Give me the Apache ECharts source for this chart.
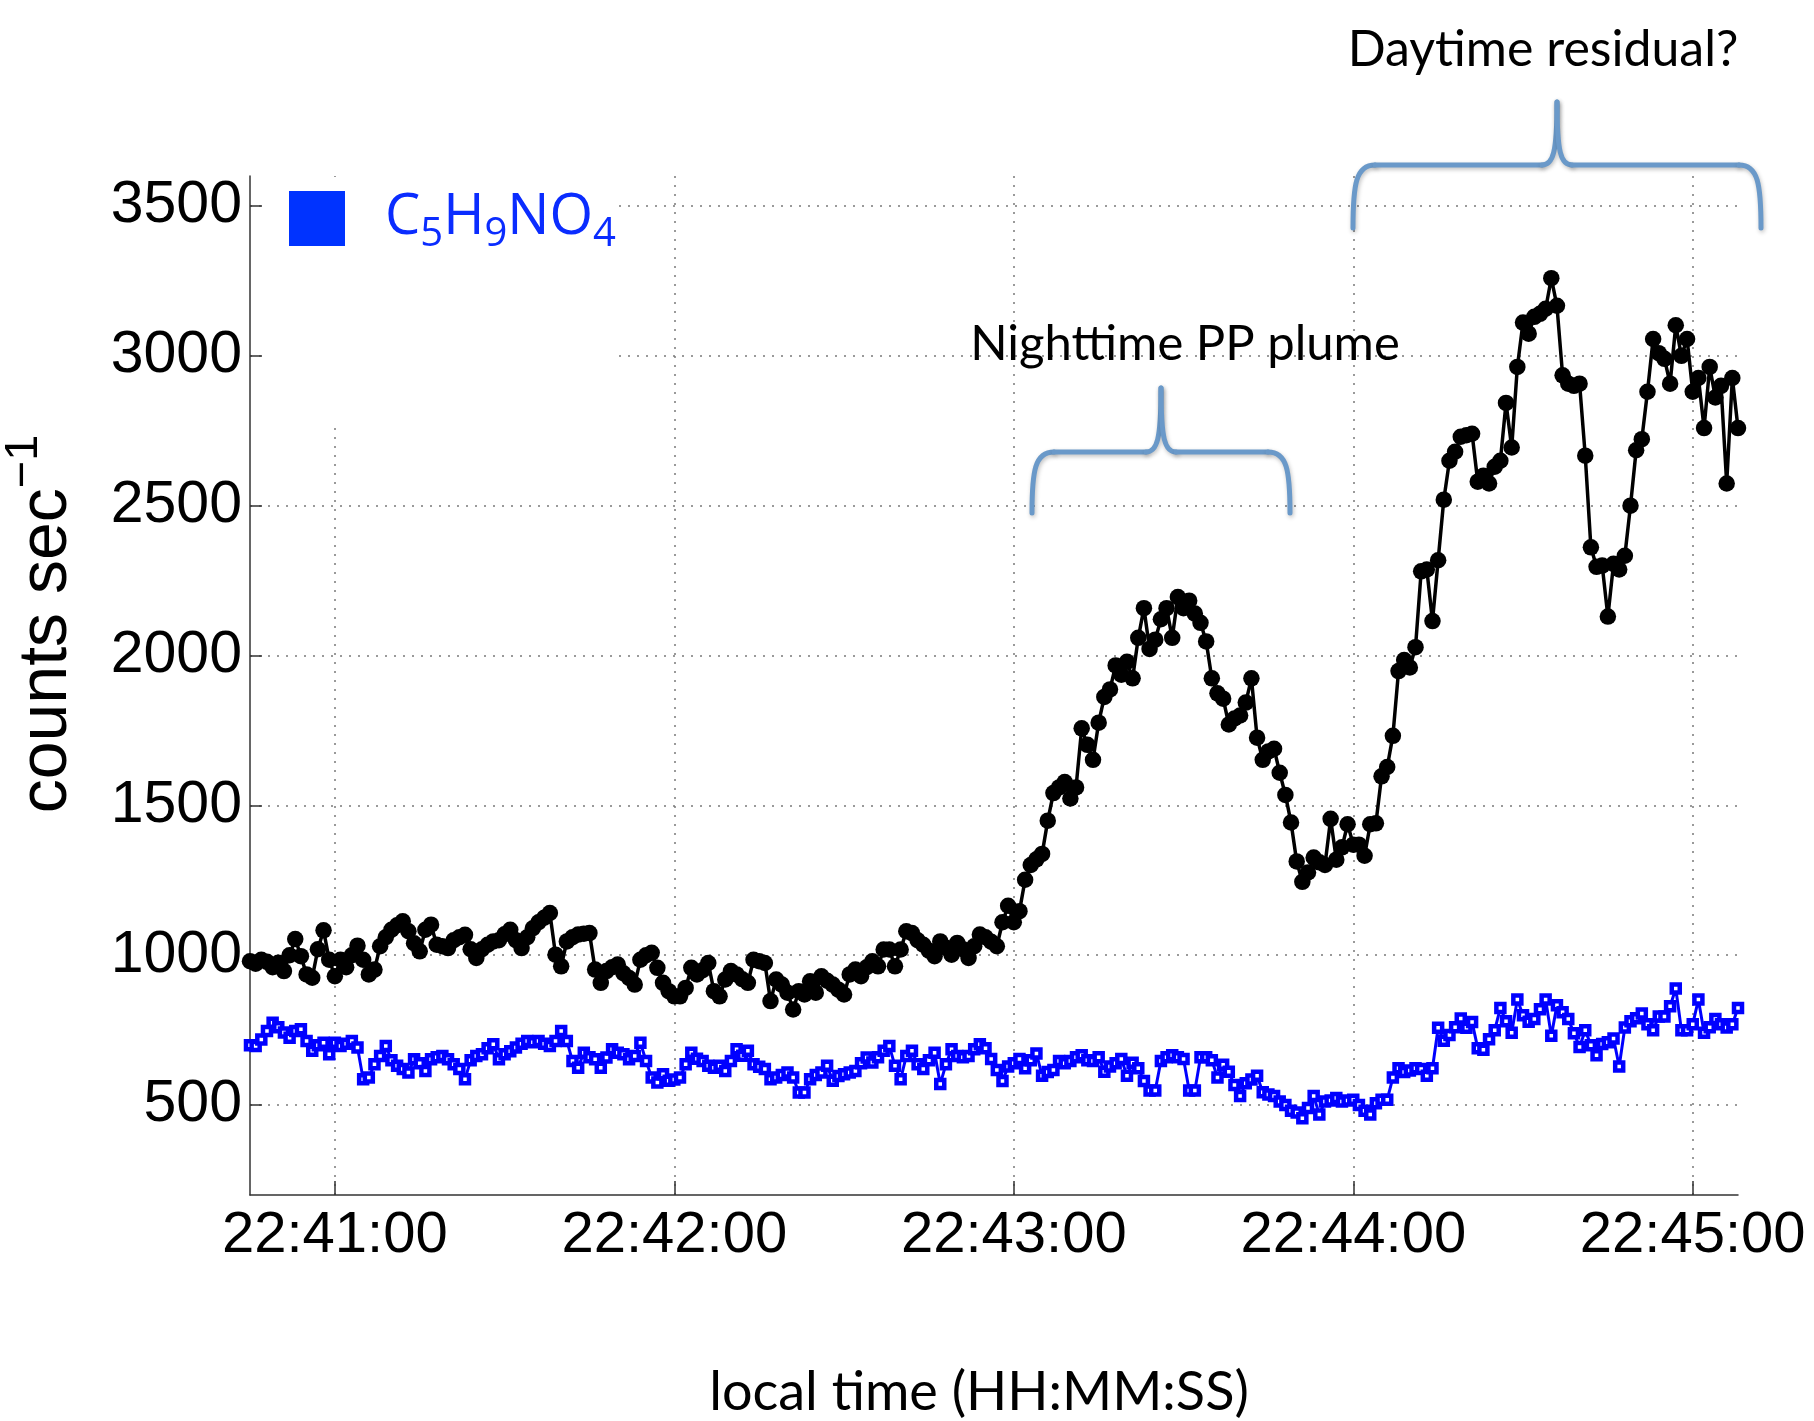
<!DOCTYPE html>
<html><head><meta charset="utf-8">
<script src="https://cdn.jsdelivr.net/npm/echarts@6/dist/echarts.min.js"></script>
<style>html,body{margin:0;padding:0;background:#fff}#c{width:1814px;height:1421px}</style>
</head><body><div id="c"></div>
<script>
// time in seconds relative to 22:41:00, one sample per second
const startSecond = -15;           // 22:40:45
const xTickSeconds = [0, 60, 120, 180, 240];
const xTickLabels = ['22:41:00', '22:42:00', '22:43:00', '22:44:00', '22:45:00'];
const yTicks = [500, 1000, 1500, 2000, 2500, 3000, 3500];
const seriesName = 'C5H9NO4';

const blackCounts = [
  980, 972, 985, 978, 960, 975, 947, 1000, 1054, 997, 936, 925, 1020, 1083, 985,
  930, 985, 960, 1000, 1032, 985, 936, 952, 1030, 1060, 1085, 1100, 1113, 1080, 1040, 1013, 1085, 1102, 1035, 1030, 1024, 1050, 1060, 1068, 1020, 991, 1020, 1035, 1046,
  1050, 1070, 1085, 1050, 1024, 1060, 1090, 1110, 1125, 1141, 1002, 963, 1046, 1060, 1069, 1072, 1074, 952, 908, 947, 960, 969, 940, 924, 902, 985, 1000, 1008, 958, 908, 880, 863, 863, 891, 958, 936, 950, 974, 880, 863, 919, 947, 936,
  920, 908, 985, 980, 974, 847, 919, 902, 875, 819, 880, 869, 913, 875, 930, 915, 902, 885, 869, 936, 952, 930, 960, 980, 963, 1019, 1019, 963, 1019, 1080, 1074, 1050, 1035, 1015, 997, 1046, 1025, 1002, 1041, 1020, 991, 1030, 1069,
  1060, 1045, 1030, 1110, 1165, 1110, 1147, 1252, 1301, 1320, 1338, 1449, 1541, 1560, 1578, 1523, 1560, 1757, 1702, 1652, 1776, 1862, 1887, 1967, 1936, 1979, 1924, 2059, 2158, 2022, 2053, 2121, 2158, 2059, 2195, 2158, 2183, 2140, 2109, 2047, 1924, 1874, 1856, 1770,
  1790, 1800, 1843, 1924, 1726, 1652, 1680, 1689, 1609, 1535, 1443, 1313, 1245, 1276, 1326, 1310, 1301, 1455, 1319, 1360, 1437, 1369, 1369, 1332, 1437, 1440, 1597, 1628, 1732, 1948, 1985, 1960, 2028, 2281, 2287, 2115, 2318,
  2520, 2650, 2680, 2730, 2735, 2740, 2580, 2600, 2574, 2630, 2650, 2843, 2694, 2963, 3111, 3074, 3130, 3140, 3157, 3259, 3167, 2935, 2907, 2900, 2907, 2667, 2361, 2296, 2300, 2130, 2306, 2287, 2333, 2500, 2685, 2722, 2880, 3056, 3009, 2990, 2907, 3102, 3000, 3056, 2880, 2926, 2759, 2963, 2861, 2900, 2574, 2926, 2759
];

const blueCounts = [
  700, 697, 719, 747, 775, 760, 742, 725, 747, 753, 714, 681, 700, 708, 670,
  708, 697, 705, 714, 692, 586, 592, 636, 664, 697, 650, 631, 620, 609, 653, 640, 614, 653, 660, 664, 653, 636, 620, 586, 650, 664, 670, 690, 703,
  653, 670, 680, 692, 705, 714, 710, 714, 705, 697, 714, 747, 714, 647, 625, 675, 660, 653, 625, 659, 686, 675, 670, 653, 664, 708, 647, 592, 575, 603, 581, 585, 592, 636, 675, 655, 647, 631, 625, 631, 614, 647, 686,
  665, 681, 636, 628, 620, 586, 592, 600, 609, 592, 542, 542, 586, 600, 609, 631, 581, 597, 603, 609, 614, 640, 659, 642, 660, 681, 697, 631, 586, 664, 681, 636, 620, 650, 675, 570, 636, 686, 664, 660, 664, 686, 703,
  690, 654, 617, 580, 629, 640, 654, 623, 650, 672, 598, 610, 617, 647, 640, 647, 660, 666, 650, 647, 660, 611, 629, 640, 654, 598, 641, 623, 580, 549, 549, 647, 660, 666, 660, 654, 549, 549, 660, 660, 650, 592, 635, 611,
  567, 530, 573, 585, 598, 543, 535, 530, 512, 500, 481, 475, 456, 490, 530, 469, 512, 515, 524, 512, 515, 518, 500, 481, 469, 506, 518, 518, 592, 623, 610, 615, 623, 620, 598, 623, 758, 715, 734, 760, 789, 758, 777, 690,
  685, 720, 750, 824, 780, 741, 852, 800, 778, 787, 820, 852, 731, 833, 810, 787, 740, 694, 750, 700, 666, 704, 710, 722, 629, 759, 780, 790, 806, 770, 750, 796, 796, 830, 889, 750, 750, 770, 852, 741, 760, 787, 770, 759, 770, 824
];

const blackData = blackCounts.map((v, i) => [startSecond + i, v]);
const blueData = blueCounts.map((v, i) => [startSecond + i, v]);

const chart = echarts.init(document.getElementById('c'), null, {renderer: 'canvas'});
const dotted = {type: [2, 7], color: '#7a7a7a', width: 1.5};
const axisCol = '#333';
const annFont = 'Lato';
const braceColor = '#6a99c9';
const legendBlue = '#0a2cff';

// curly brace drawn from bezier and line pieces (pixel layout, not data)
function brace(x0, x1, xm, yLine, yEnd, yPeak) {
  const st = {stroke: braceColor, lineWidth: 5, lineCap: 'round', fill: null,
    shadowBlur: 4, shadowColor: 'rgba(0,0,0,0.25)', shadowOffsetX: 1, shadowOffsetY: 2};
  const r = 22, h = yEnd - yLine;
  return [
    {type: 'bezierCurve', z: 5, shape: {x1: x0, y1: yEnd, cpx1: x0, cpy1: yLine + h * 0.3, cpx2: x0 + 3, cpy2: yLine, x2: x0 + r, y2: yLine}, style: st},
    {type: 'line', z: 5, shape: {x1: x0 + r, y1: yLine, x2: xm - 15, y2: yLine}, style: st},
    {type: 'bezierCurve', z: 5, shape: {x1: xm - 15, y1: yLine, cpx1: xm - 4, cpy1: yLine, cpx2: xm, cpy2: yLine - 12, x2: xm, y2: yPeak}, style: st},
    {type: 'bezierCurve', z: 5, shape: {x1: xm, y1: yPeak, cpx1: xm, cpy1: yLine - 12, cpx2: xm + 4, cpy2: yLine, x2: xm + 15, y2: yLine}, style: st},
    {type: 'line', z: 5, shape: {x1: xm + 15, y1: yLine, x2: x1 - r, y2: yLine}, style: st},
    {type: 'bezierCurve', z: 5, shape: {x1: x1 - r, y1: yLine, cpx1: x1 - 3, cpy1: yLine, cpx2: x1, cpy2: yLine + h * 0.3, x2: x1, y2: yEnd}, style: st}
  ];
}

chart.setOption({
  animation: false,
  backgroundColor: '#fff',
  grid: {left: 250, top: 176, width: 1488, height: 1019, containLabel: false},
  xAxis: {
    type: 'value', min: startSecond, max: startSecond + blackCounts.length - 1,
    axisLine: {show: true, onZero: false, lineStyle: {color: axisCol, width: 1.5}},
    axisTick: {show: true, inside: true, length: 14, customValues: xTickSeconds, lineStyle: {color: axisCol, width: 1.5}},
    axisLabel: {customValues: xTickSeconds, formatter: v => xTickLabels[xTickSeconds.indexOf(v)],
      fontSize: 58, color: '#000', fontFamily: 'Liberation Sans', margin: 12},
    splitLine: {show: true, lineStyle: dotted}
  },
  yAxis: {
    type: 'value', min: 200, max: 3600,
    axisLine: {show: true, onZero: false, lineStyle: {color: axisCol, width: 1.5}},
    axisTick: {show: true, inside: true, length: 12, customValues: yTicks, lineStyle: {color: axisCol, width: 1.5}},
    axisLabel: {customValues: yTicks, formatter: v => String(v), fontSize: 59, color: '#000', fontFamily: 'Liberation Sans', margin: 8},
    splitLine: {show: true, lineStyle: dotted}
  },
  legend: {
    left: 289, top: 191, padding: 0, itemWidth: 56, itemHeight: 55, orient: 'vertical',
    data: [{name: seriesName, icon: 'rect', itemStyle: {color: '#0033ff', borderWidth: 0}}],
    formatter: () => '',
    textStyle: {fontSize: 1}
  },
  graphic: [
    {type: 'rect', z: 1, shape: {x: 264, y: 177, width: 350, height: 246}, style: {fill: '#fff'}, silent: true},
    {type: 'text', z: 5, x: 385, y: 218,
      style: {text: '{m|C}{s|5}{m|H}{s|9}{m|NO}{s|4}', align: 'left', verticalAlign: 'middle',
        rich: {m: {fontSize: 56, fill: legendBlue, fontFamily: 'Open Sans', lineHeight: 60},
               s: {fontSize: 40, fill: legendBlue, fontFamily: 'Open Sans', lineHeight: 40, padding: [34, 0, 0, 0]}}}},
    ...brace(1032, 1290, 1161, 452, 513, 388),
    ...brace(1353, 1761, 1557, 165, 228, 102),
    {type: 'text', z: 5, x: 1185, y: 344, style: {text: 'Nighttime PP plume', font: '49px ' + annFont, fill: '#000', align: 'center', verticalAlign: 'middle'}},
    {type: 'text', z: 5, x: 1543, y: 50, style: {text: 'Daytime residual?', font: '50px ' + annFont, fill: '#000', align: 'center', verticalAlign: 'middle'}},
    {type: 'text', z: 5, x: 979, y: 1393, style: {text: 'local time (HH:MM:SS)', font: '54px ' + annFont, fill: '#000', align: 'center', verticalAlign: 'middle'}},
    {type: 'text', z: 5, x: 47, y: 624, rotation: Math.PI / 2,
      style: {text: '{a|counts sec}{b|\u22121}', align: 'center', verticalAlign: 'middle',
        rich: {a: {fontSize: 68, fontFamily: 'Liberation Sans', fill: '#000', lineHeight: 92},
               b: {fontSize: 47, fontFamily: 'Liberation Sans', fill: '#000', lineHeight: 50, verticalAlign: 'top'}}}}
  ],
  series: [
    {name: seriesName, type: 'line', data: blueData, symbol: 'rect', symbolSize: 8, showAllSymbol: true,
      itemStyle: {color: '#fff', borderColor: '#0000ff', borderWidth: 4.5},
      lineStyle: {color: '#0000ff', width: 3}, z: 3},
    {name: 'black', type: 'line', data: blackData, symbol: 'circle', symbolSize: 16.5, showAllSymbol: true,
      itemStyle: {color: '#000'}, lineStyle: {color: '#000', width: 3.5}, z: 4}
  ]
});
</script>
</body></html>
